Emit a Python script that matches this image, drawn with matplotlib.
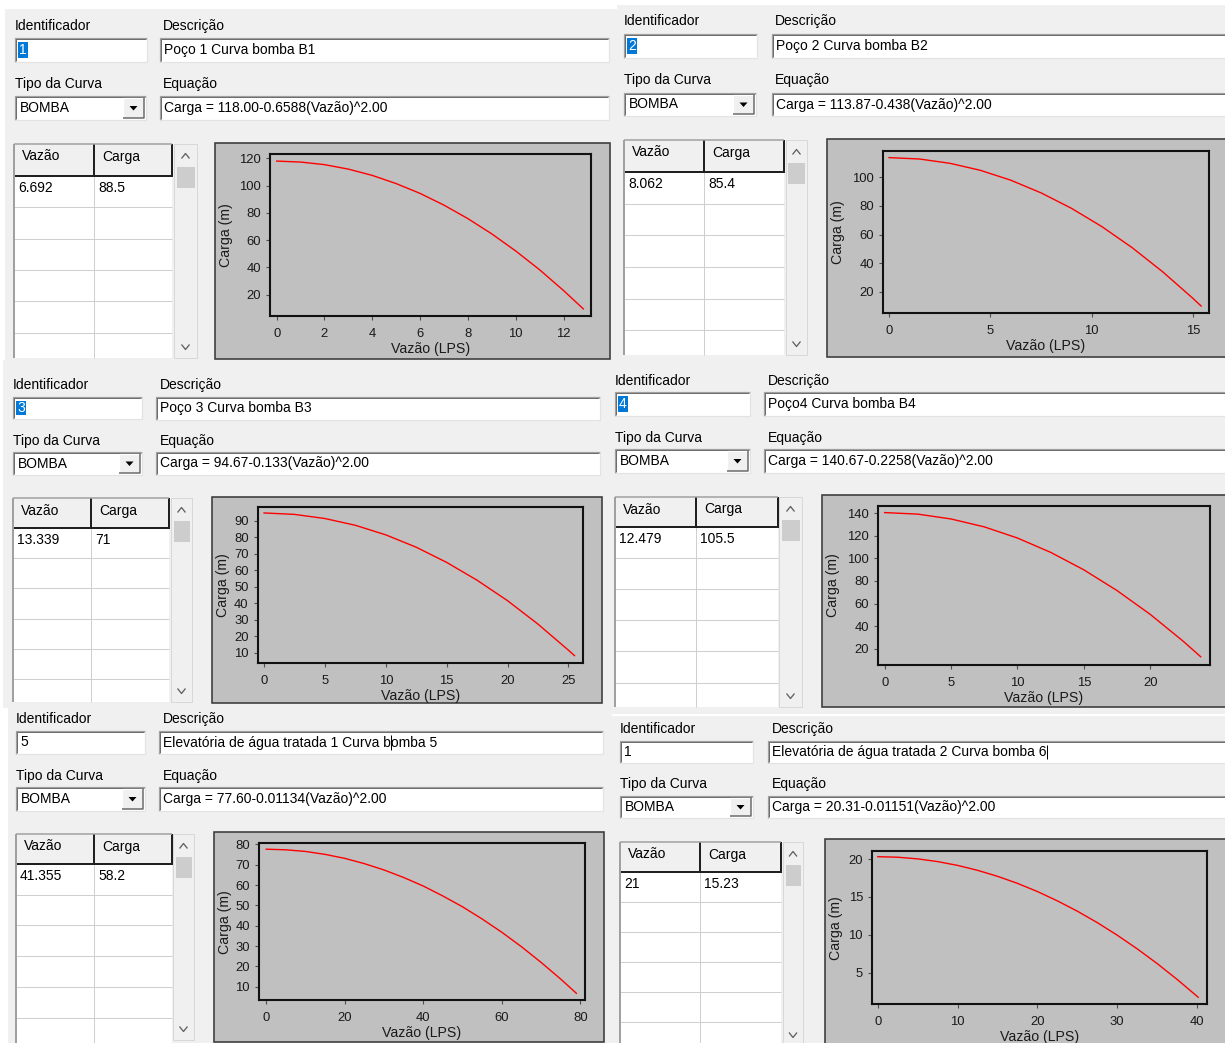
import matplotlib
matplotlib.use('Agg')
import matplotlib.pyplot as plt
from matplotlib.patches import Rectangle, Polygon
from matplotlib.lines import Line2D

plt.rcParams['font.family'] = ['Liberation Sans', 'DejaVu Sans']

# ---------------- data ----------------
ids = ['1', '2', '3', '4', '5', '1']
id_selected = [True, True, True, True, False, False]
descriptions = ['Poço 1 Curva bomba B1', 'Poço 2 Curva bomba B2', 'Poço 3 Curva bomba B3',
                'Poço4 Curva bomba B4', 'Elevatória de água tratada 1 Curva bomba 5',
                'Elevatória de água tratada 2 Curva bomba 6']
equations = ['Carga = 118.00-0.6588(Vazão)^2.00', 'Carga = 113.87-0.438(Vazão)^2.00',
             'Carga = 94.67-0.133(Vazão)^2.00', 'Carga = 140.67-0.2258(Vazão)^2.00',
             'Carga = 77.60-0.01134(Vazão)^2.00', 'Carga = 20.31-0.01151(Vazão)^2.00']
table_flow = ['6.692', '8.062', '13.339', '12.479', '41.355', '21']
table_head = ['88.5', '85.4', '71', '105.5', '58.2', '15.23']

q1 = [0, 1, 2, 3, 4, 5, 6, 7, 8, 9, 10, 11, 12, 12.83]
h1 = [118.0, 117.3, 115.4, 112.1, 107.5, 101.5, 94.3, 85.7, 75.8, 64.6, 52.1, 38.3, 23.1, 9.6]
q2 = [0, 1.5, 3, 4.5, 6, 7.5, 9, 10.5, 12, 13.5, 15, 15.4]
h2 = [113.87, 112.9, 109.9, 105.0, 98.1, 89.2, 78.4, 65.6, 50.8, 34.0, 15.3, 10.0]
q3 = [0, 2.5, 5, 7.5, 10, 12.5, 15, 17.5, 20, 22.5, 25, 25.5]
h3 = [94.67, 93.8, 91.3, 87.2, 81.4, 73.9, 64.7, 53.9, 41.5, 27.3, 11.5, 8.2]
q4 = [0, 2.5, 5, 7.5, 10, 12.5, 15, 17.5, 20, 22.5, 23.8]
h4 = [140.67, 139.3, 135.0, 128.0, 118.1, 105.4, 89.9, 71.5, 50.4, 26.4, 12.8]
q5 = [0, 5, 10, 15, 20, 25, 30, 35, 40, 45, 50, 55, 60, 65, 70, 75, 79.0]
h5 = [77.6, 77.3, 76.5, 75.05, 73.1, 70.5, 67.4, 63.7, 59.5, 54.6, 49.3, 43.3, 36.8, 29.7, 22.0, 13.8, 6.8]
q6 = [0, 2.5, 5, 7.5, 10, 12.5, 15, 17.5, 20, 22.5, 25, 27.5, 30, 32.5, 35, 37.5, 40.15]
h6 = [20.31, 20.24, 20.02, 19.66, 19.16, 18.51, 17.72, 16.79, 15.71, 14.48, 13.12, 11.61, 9.95, 8.15, 6.21, 4.12, 1.76]
flows = [q1, q2, q3, q4, q5, q6]
heads = [h1, h2, h3, h4, h5, h6]

xticks = [[0, 2, 4, 6, 8, 10, 12], [0, 5, 10, 15], [0, 5, 10, 15, 20, 25],
          [0, 5, 10, 15, 20], [0, 20, 40, 60, 80], [0, 10, 20, 30, 40]]
yticks = [[20, 40, 60, 80, 100, 120], [20, 40, 60, 80, 100], [10, 20, 30, 40, 50, 60, 70, 80, 90],
          [20, 40, 60, 80, 100, 120, 140], [10, 20, 30, 40, 50, 60, 70, 80], [5, 10, 15, 20]]
xlims = [(-0.28, 13.15), (-0.3, 15.79), (-0.53, 26.2), (-0.5, 24.5), (-1.9, 81.2), (-0.73, 41.25)]
ylims = [(4.4, 123.2), (5.1, 118.5), (3.9, 98.1), (5.5, 146.5), (3.5, 80.5), (0.83, 21.06)]

# ---------------- layout (pixels) ----------------
layouts = [
    dict(bg=(5, 9, 617, 362), lab_id=(15, 26), id_box=(15, 38, 147, 62), lab_desc=(163, 26),
         desc_box=(160, 38, 609, 62), lab_tipo=(15, 84), combo=(15, 96, 146, 120), lab_eq=(163, 84),
         eq_box=(160, 96, 609, 120), table=(14, 144, 172, 358), coldiv=94, hdr=175.5, row=31.5,
         scroll=(174, 144, 197, 358), chart=(215, 143, 610, 359), ax=(270, 154, 591, 316)),
    dict(bg=(617, 5, 1226, 358), lab_id=(624, 21), id_box=(624, 34, 757, 58), lab_desc=(775, 21),
         desc_box=(772, 34, 1232, 58), lab_tipo=(624, 80), combo=(624, 93, 756, 116), lab_eq=(775, 80),
         eq_box=(772, 93, 1232, 116), table=(624, 140, 784, 355), coldiv=704, hdr=172, row=31.7,
         scroll=(786, 140, 807, 355), chart=(827, 139, 1232, 357), ax=(883, 151, 1209, 313)),
    dict(bg=(3, 360, 612, 708), lab_id=(13, 385), id_box=(13, 397, 142, 419), lab_desc=(160, 385),
         desc_box=(156, 397, 600, 420), lab_tipo=(13, 441), combo=(13, 452, 142, 475), lab_eq=(160, 441),
         eq_box=(156, 452, 600, 475), table=(13, 498, 169, 702), coldiv=91, hdr=528, row=30.2,
         scroll=(171, 498, 192, 702), chart=(212, 497, 602, 703), ax=(257.6, 507.3, 583, 662.7)),
    dict(bg=(612, 356, 1226, 714), lab_id=(615, 381), id_box=(615, 392, 750, 416), lab_desc=(768, 381),
         desc_box=(764, 392, 1232, 416), lab_tipo=(615, 438), combo=(615, 449, 750, 473), lab_eq=(768, 438),
         eq_box=(764, 449, 1232, 473), table=(615, 497, 778, 707), coldiv=696, hdr=527, row=31.1,
         scroll=(779, 497, 802, 707), chart=(822, 495, 1232, 707), ax=(878, 506, 1210, 665)),
    dict(bg=(8, 706, 612, 1044), lab_id=(16, 719), id_box=(16, 731, 145, 754), lab_desc=(163, 719),
         desc_box=(159, 731, 603, 754), lab_tipo=(16, 776), combo=(16, 787, 145, 811), lab_eq=(163, 776),
         eq_box=(159, 787, 603, 811), table=(16, 834, 172, 1045), coldiv=94, hdr=864, row=30.7,
         scroll=(173, 834, 194, 1040), chart=(214, 832, 604, 1042), ax=(258.8, 843.3, 585, 1000)),
    dict(bg=(612, 716, 1226, 1044), lab_id=(620, 729), id_box=(620, 741, 753, 763), lab_desc=(772, 729),
         desc_box=(768, 741, 1232, 763), lab_tipo=(620, 784), combo=(620, 796, 753, 818), lab_eq=(772, 784),
         eq_box=(768, 796, 1232, 818), table=(620, 842, 781, 1048), coldiv=700, hdr=872, row=30,
         scroll=(783, 842, 803, 1046), chart=(825, 839, 1232, 1048), ax=(872, 851, 1207, 1004.3)),
]
cursor_after = [None, None, None, None, 'Elevatória de água tratada 1 Curva b',
                'Elevatória de água tratada 2 Curva bomba 6']

W, H = 1225, 1043
fig = plt.figure(figsize=(W / 100, H / 100), dpi=100)
fig.patch.set_facecolor('white')
renderer = fig.canvas.get_renderer()

UI = 10.0     # ui font size (pt)
PX = 0.72     # one pixel in points


def fx(x):
    return x / W


def fy(y):
    return 1 - y / H


def rect(x0, y0, x1, y1, fc='none', ec='none', lw=1.0, z=1):
    fig.add_artist(Rectangle((fx(x0), fy(y1)), (x1 - x0) / W, (y1 - y0) / H,
                             transform=fig.transFigure, fc=fc, ec=ec, lw=lw, zorder=z))


def line(xs, ys, color, lw=PX, z=2):
    fig.add_artist(Line2D([fx(x) for x in xs], [fy(y) for y in ys], transform=fig.transFigure,
                          color=color, lw=lw, zorder=z, solid_capstyle='butt'))


def text(x, y, s, size=UI, color='black', ha='left', va='center', z=3, **kw):
    return fig.text(fx(x), fy(y), s, fontsize=size, color=color, ha=ha, va=va, zorder=z, **kw)


def text_width(s, size=UI):
    t = fig.text(0, 0, s, fontsize=size)
    w = t.get_window_extent(renderer).width
    t.remove()
    return w


def sunken(x0, y0, x1, y1):
    rect(x0, y0, x1, y1, fc='white', z=1)
    line([x0, x0, x1], [y1, y0, y0], '#a0a0a0', PX * 1.2)
    line([x0 + 1, x0 + 1, x1 - 1], [y1 - 1, y0 + 1, y0 + 1], '#6e6e6e', PX)
    line([x0, x1, x1], [y1, y1, y0], '#e3e3e3', PX * 1.2)


def chevron(cx, cy, up=True):
    d = -2.5 if up else 2.5
    line([cx - 4, cx, cx + 4], [cy - d, cy + d, cy - d], '#606060', PX * 1.3, z=3)


for i, L in enumerate(layouts):
    # panel background
    rect(*L['bg'], fc='#f0f0f0', z=0)

    # labels
    text(*L['lab_id'], 'Identificador')
    text(*L['lab_desc'], 'Descrição')
    text(*L['lab_tipo'], 'Tipo da Curva')
    text(*L['lab_eq'], 'Equação')

    # identifier box
    x0, y0, x1, y1 = L['id_box']
    sunken(x0, y0, x1, y1)
    cy = (y0 + y1) / 2
    if id_selected[i]:
        w = text_width(ids[i])
        rect(x0 + 3, y0 + 4, x0 + 4 + w + 1, y1 - 4, fc='#0078d7', z=2)
        text(x0 + 4, cy, ids[i], color='white')
    else:
        text(x0 + 4, cy, ids[i])

    # description box
    x0, y0, x1, y1 = L['desc_box']
    sunken(x0, y0, x1, y1)
    cy = (y0 + y1) / 2
    text(x0 + 4, cy, descriptions[i])
    if cursor_after[i] is not None:
        cx = x0 + 4 + text_width(cursor_after[i]) + 0.5
        line([cx, cx], [y0 + 4, y1 - 4], 'black', PX, z=4)

    # combo box
    x0, y0, x1, y1 = L['combo']
    sunken(x0, y0, x1, y1)
    cy = (y0 + y1) / 2
    text(x0 + 5, cy, 'BOMBA')
    bx0, bx1 = x1 - 23, x1 - 2
    rect(bx0, y0 + 2, bx1, y1 - 2, fc='#f0f0f0', z=2)
    line([bx0, bx0, bx1], [y1 - 2, y0 + 2, y0 + 2], 'white', PX * 1.2, z=3)
    line([bx0, bx1, bx1], [y1 - 2, y1 - 2, y0 + 2], '#696969', PX * 1.5, z=3)
    bcx = (bx0 + bx1) / 2
    fig.add_artist(Polygon([(fx(bcx - 4), fy(cy - 2)), (fx(bcx + 4), fy(cy - 2)), (fx(bcx), fy(cy + 2.5))],
                           closed=True, transform=fig.transFigure, fc='black', ec='none', zorder=4))

    # equation box
    x0, y0, x1, y1 = L['eq_box']
    sunken(x0, y0, x1, y1)
    text(x0 + 4, (y0 + y1) / 2, equations[i])

    # table
    tx0, ty0, tx1, ty1 = L['table']
    cd, hb, rh = L['coldiv'], L['hdr'], L['row']
    rect(tx0, ty0, tx1, ty1, fc='white', z=1)
    rect(tx0, ty0, tx1, hb, fc='#f0f0f0', z=1)
    y = hb + rh
    while y < ty1:
        line([tx0, tx1], [y, y], '#cfcfcf', PX, z=2)
        y += rh
    line([cd, cd], [hb, ty1], '#cfcfcf', PX, z=2)
    line([cd, cd], [ty0, hb], '#202020', PX * 2, z=3)
    line([tx1, tx1], [ty0, hb], '#202020', PX * 2, z=3)
    line([tx0, tx1 + 1], [hb, hb], '#202020', PX * 2, z=3)
    line([tx0, tx0], [ty1, ty0], '#a0a0a0', PX * 2, z=3)
    line([tx0, tx1], [ty0, ty0], '#a0a0a0', PX * 1.5, z=3)
    text(tx0 + 8, ty0 + 12.5, 'Vazão')
    text(cd + 8, ty0 + 12.5, 'Carga')
    text(tx0 + 4, hb + 12, table_flow[i])
    text(cd + 4, hb + 12, table_head[i])

    # scroll bar
    sx0, sy0, sx1, sy1 = L['scroll']
    rect(sx0, sy0, sx1, sy1, fc='#f0f0f0', ec='none', z=1)
    line([sx0, sx1, sx1, sx0, sx0], [sy0, sy0, sy1, sy1, sy0], '#d8d8d8', PX, z=2)
    scx = (sx0 + sx1) / 2
    chevron(scx, sy0 + 12, up=True)
    chevron(scx, sy1 - 11, up=False)
    rect(sx0 + 2.5, sy0 + 23, sx1 - 2, sy0 + 44, fc='#cdcdcd', z=2)

    # chart frame
    cx0, cy0, cx1, cy1 = L['chart']
    rect(cx0, cy0, cx1, cy1, fc='#c0c0c0', ec='#3a3a3a', lw=PX * 1.6, z=1)

    ax0, ay0, ax1, ay1 = L['ax']
    ax = fig.add_axes([fx(ax0), fy(ay1), (ax1 - ax0) / W, (ay1 - ay0) / H])
    ax.set_zorder(5)
    ax.set_facecolor('#c0c0c0')
    ax.plot(flows[i], heads[i], color='#ff0000', lw=1.0, solid_joinstyle='round')
    ax.set_xlim(*xlims[i])
    ax.set_ylim(*ylims[i])
    ax.set_xticks(xticks[i])
    ax.set_yticks(yticks[i])
    ax.set_xticklabels([str(v) for v in xticks[i]])
    ax.set_yticklabels([str(v) for v in yticks[i]])
    for s in ax.spines.values():
        s.set_color('#111111')
        s.set_linewidth(1.5)
    ax.tick_params(direction='out', length=3, width=0.8, color='#505050', labelsize=9.4,
                   labelcolor='#1a1a1a', top=False, right=False)
    ax.tick_params(axis='x', pad=5.5)
    ax.tick_params(axis='y', pad=3.5)
    # axis titles
    text((ax0 + ax1) / 2, ay1 + 33, 'Vazão (LPS)', size=10.2, color='#1a1a1a', ha='center', z=6)
    text(cx0 + 11, (ay0 + ay1) / 2, 'Carga (m)', size=10.2, color='#1a1a1a', rotation=90,
         ha='center', z=6)

fig.savefig('out.png', dpi=100, facecolor=fig.get_facecolor())
